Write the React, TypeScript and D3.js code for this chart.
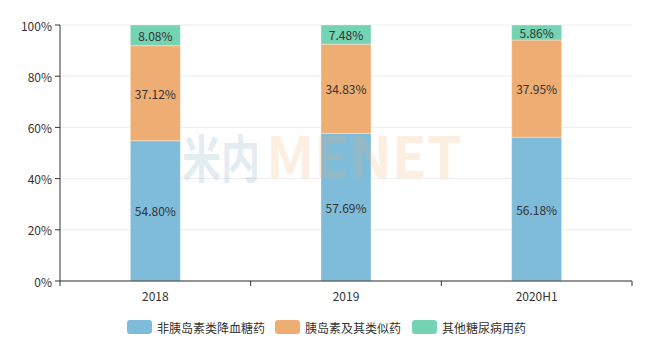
import * as d3 from "d3";

const categories = ["2018", "2019", "2020H1"];
const seriesNames = ["非胰岛素类降血糖药", "胰岛素及其类似药", "其他糖尿病用药"];
const nonInsulin = [54.8, 57.69, 56.18];
const insulin = [37.12, 34.83, 37.95];
const others = [8.08, 7.48, 5.86];
const colors = ["#7ebcda", "#eead72", "#73d3b2"];
const yTicks = [0, 20, 40, 60, 80, 100];

const W = 649;
const H = 353;
const m = { left: 60, right: 17, top: 25, bottom: 72 };
const font = "'Noto Sans CJK SC', 'Microsoft YaHei', sans-serif";

export default function App() {
  const x = d3
    .scaleBand<string>()
    .domain(categories)
    .range([m.left, W - m.right]);
  const y = d3
    .scaleLinear()
    .domain([0, 100])
    .range([H - m.bottom, m.top]);

  const rows = categories.map((c, i) => ({
    cat: c,
    s0: nonInsulin[i],
    s1: insulin[i],
    s2: others[i],
  }));
  const stack = d3.stack<any>().keys(["s0", "s1", "s2"]);
  const layers = stack(rows);
  const barW = 50;

  const legendX = [127, 275, 412];

  return (
    <svg width={W} height={H} style={{ display: "block", margin: "-8px" }} fontFamily={font}>
      {/* grid */}
      {yTicks.map((t) => (
        <line
          key={"g" + t}
          x1={m.left}
          x2={W - m.right}
          y1={y(t)}
          y2={y(t)}
          stroke="#ececec"
        />
      ))}
      {/* bars */}
      {layers.map((layer, li) =>
        layer.map((d, i) => {
          const cx = x(categories[i])! + x.bandwidth() / 2;
          const y0 = y(d[0]);
          const y1 = y(d[1]);
          const v = (d[1] - d[0]).toFixed(2) + "%";
          return (
            <g key={li + "-" + i}>
              <rect
                x={cx - barW / 2}
                y={y1}
                width={barW}
                height={y0 - y1}
                fill={colors[li]}
                stroke="#ffffff"
                strokeOpacity={0.35}
                strokeWidth={1}
              />
              <text
                x={cx}
                y={(y0 + y1) / 2}
                textAnchor="middle"
                dominantBaseline="central"
                fontSize={12}
                fill="#333"
              >
                {v}
              </text>
            </g>
          );
        })
      )}
      {/* watermark */}
      <g fontWeight="bold" fontFamily="'Noto Sans CJK SC', sans-serif" opacity={0.2}>
        <text
          transform="translate(182,178) scale(1,1.3)"
          fontSize={39}
          fill="#7aa7bd"
        >
          米内
        </text>
        <text
          transform="translate(266,178) scale(1,1.1)"
          fontSize={52}
          fill="#f4b070"
          textLength={196}
          lengthAdjust="spacingAndGlyphs"
        >
          MENET
        </text>
      </g>
      {/* y axis */}
      <line x1={m.left} x2={m.left} y1={m.top} y2={H - m.bottom} stroke="#333" />
      {yTicks.map((t) => (
        <g key={"y" + t}>
          <line x1={m.left - 5} x2={m.left} y1={y(t)} y2={y(t)} stroke="#333" />
          <text
            x={m.left - 8}
            y={y(t)}
            textAnchor="end"
            dominantBaseline="central"
            fontSize={12}
            fill="#333"
          >
            {t + "%"}
          </text>
        </g>
      ))}
      {/* x axis */}
      <line x1={m.left} x2={W - m.right} y1={y(0)} y2={y(0)} stroke="#333" />
      {[...categories.map((c) => x(c)!), W - m.right].map((px, i) => (
        <line key={"xt" + i} x1={px} x2={px} y1={y(0)} y2={y(0) + 5} stroke="#333" />
      ))}
      {categories.map((c) => (
        <text
          key={"xl" + c}
          x={x(c)! + x.bandwidth() / 2}
          y={y(0) + 14}
          textAnchor="middle"
          dominantBaseline="central"
          fontSize={12}
          fill="#333"
        >
          {c}
        </text>
      ))}
      {/* legend */}
      {seriesNames.map((n, i) => (
        <g key={"lg" + n}>
          <rect x={legendX[i]} y={320} width={25} height={14} rx={3} fill={colors[i]} />
          <text
            x={legendX[i] + 30}
            y={327}
            dominantBaseline="central"
            fontSize={12}
            fill="#333"
          >
            {n}
          </text>
        </g>
      ))}
    </svg>
  );
}
